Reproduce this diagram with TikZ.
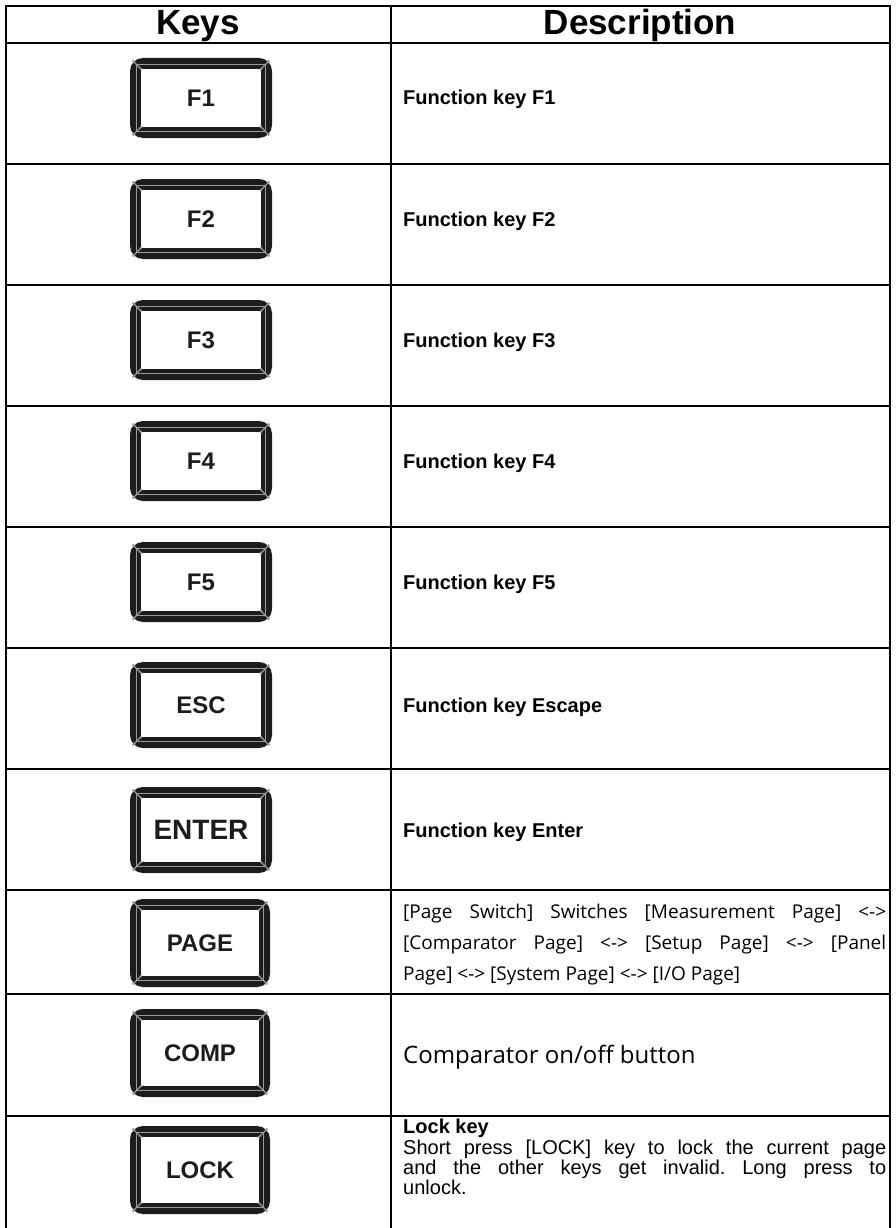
\documentclass[tikz,border=0pt]{standalone}
\usepackage{fontspec}
\setmainfont{Liberation Sans}
\newfontfamily\yahei{Open Sans}
\frenchspacing
\definecolor{keyblack}{HTML}{1C1C1C}
\definecolor{keygray}{HTML}{9A9A9A}
\tikzset{
  gridline/.style={line width=2.3pt, black},
  keylabel/.style={text=keyblack, inner sep=0pt},
  desc/.style={font=\bfseries\fontsize{20}{22}\selectfont, anchor=base west, inner sep=0pt},
  plain/.style={font=\fontsize{20}{21}\selectfont, anchor=base west, inner sep=0pt},
  yh/.style={font=\yahei\fontsize{19}{19}\selectfont, anchor=base west, inner sep=0pt},
  head/.style={font=\bfseries\fontsize{35}{35}\selectfont, anchor=base, inner sep=0pt},
}
\newcommand{\keycap}[7]{%
  \begin{scope}[shift={(#2,#3)}]
    \fill[keyblack, rounded corners=13pt] (-#4,-#5) rectangle (#4,#5);
    \draw[keygray, line width=1.5pt] (-#4+6.5,-#5+6.5) rectangle (#4-6.5,#5-6.5);
    \fill[white] (-#4+11,-#5+11) rectangle (#4-11,#5-11);
    \foreach \sx in {-1,1}{\foreach \sy in {-1,1}{
      \draw[keygray, line width=1.2pt] (\sx*#4-\sx*3.5,\sy*#5-\sy*3.5) -- (\sx*#4-\sx*11,\sy*#5-\sy*11);
      \fill[keygray] (\sx*#4-\sx*3.5,\sy*#5-\sy*3.5) circle (1.7pt);
      \fill[keygray] (\sx*#4-\sx*11,\sy*#5-\sy*11) circle (1.3pt);
    }}
    \node[keylabel, font=\bfseries\fontsize{#6}{#6}\selectfont] (#1) at (0,0) {#7};
  \end{scope}}
\begin{document}
\begin{tikzpicture}[x=1pt,y=-1pt]
\useasboundingbox (0,0) rectangle (896,1228);
\fill[white] (0,0) rectangle (896,1228);
% grid
\draw[gridline] (6,1228) -- (6,6) -- (890,6) -- (890,1228);
\draw[gridline] (391,6) -- (391,1228);
\foreach \yy in {43,164,285,406,527,648,769,890,994,1116}{
  \draw[gridline] (6,\yy) -- (890,\yy);
}
% header
\node[head] (hkeys) at (198,35) {Keys};
\node[head] (hdesc) at (640,35) {Description};
% keys
\keycap{k1}{201}{98}{71}{40}{24}{F1}
\keycap{k2}{201}{219}{71}{40}{24}{F2}
\keycap{k3}{201}{340}{71}{40}{24}{F3}
\keycap{k4}{201}{461}{71}{40}{24}{F4}
\keycap{k5}{201}{582}{71}{40}{24}{F5}
\keycap{kesc}{201}{705}{71}{43}{24}{ESC}
\keycap{kent}{201}{830}{71}{43}{28}{ENTER}
\keycap{kpage}{200}{943}{70}{44}{24}{PAGE}
\keycap{kcomp}{200}{1053}{70}{44}{24}{COMP}
\keycap{klock}{200}{1170}{70}{44}{24}{LOCK}
% descriptions
\node[desc] (d1) at (403,105) {Function key F1};
\node[desc] (d2) at (403,226) {Function key F2};
\node[desc] (d3) at (403,347) {Function key F3};
\node[desc] (d4) at (403,468) {Function key F4};
\node[desc] (d5) at (403,589) {Function key F5};
\node[desc] (desc6) at (403,712) {Function key Escape};
\node[desc] (desc7) at (403,837) {Function key Enter};
\node[yh] (p1) at (403,918) {\makebox[483pt][s]{[Page Switch] Switches [Measurement Page] <->}};
\node[yh] (p2) at (403,949) {\makebox[483pt][s]{[Comparator Page] <-> [Setup Page] <-> [Panel}};
\node[yh] (p3) at (403,980) {Page] <-> [System Page] <-> [I/O Page]};
\node[yh, font=\yahei\fontsize{24}{24}\selectfont] (c1) at (403,1063) {Comparator on/off button};
\node[desc] (l1) at (403,1133) {Lock key};
\node[plain] (l2) at (403,1154) {\makebox[483pt][s]{Short press [LOCK] key to lock the current page}};
\node[plain] (l3) at (403,1174) {\makebox[483pt][s]{and the other keys get invalid. Long press to}};
\node[plain] (l4) at (403,1194) {unlock.};
\end{tikzpicture}
\end{document}
